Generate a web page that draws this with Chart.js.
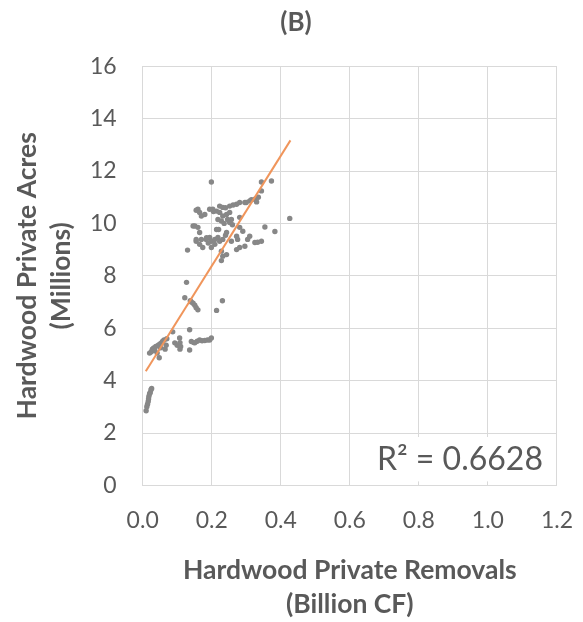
<!DOCTYPE html>
<html>
<head>
<meta charset="utf-8">
<script src="https://cdn.jsdelivr.net/npm/chart.js@4.4.1/dist/chart.umd.min.js"></script>
<style>
  body { margin: 0; background: #fff; }
  canvas { display: block; }
</style>
</head>
<body>
<canvas id="graph1" width="583" height="622"></canvas>
<script>
// Hardwood private removals (billion CF) vs hardwood private acres (millions)
const removals = [
  0.010, 0.012, 0.014, 0.016, 0.017, 0.018, 0.020, 0.022, 0.024, 0.026,
  0.020, 0.025, 0.028, 0.032, 0.035, 0.038, 0.042, 0.045, 0.048, 0.050, 0.052, 0.055,
  0.058, 0.062, 0.065, 0.068, 0.070, 0.087, 0.093, 0.100, 0.107, 0.108, 0.108, 0.110,
  0.136, 0.136, 0.141, 0.148, 0.151, 0.158, 0.165, 0.172, 0.180, 0.188, 0.194, 0.199,
  0.127, 0.122, 0.138, 0.141, 0.146, 0.151, 0.155, 0.160, 0.214, 0.231,
  0.199, 0.344, 0.373, 0.344, 0.325, 0.330, 0.310, 0.296, 0.281, 0.272, 0.252, 0.232,
  0.223, 0.203, 0.194, 0.160, 0.155, 0.165, 0.170, 0.180, 0.214, 0.223, 0.232, 0.243,
  0.252, 0.218, 0.228, 0.246, 0.257, 0.252, 0.281, 0.426, 0.146, 0.151, 0.160, 0.165,
  0.214, 0.220, 0.243, 0.281, 0.290, 0.272, 0.354, 0.383, 0.155, 0.155, 0.170, 0.184,
  0.194, 0.199, 0.209, 0.218, 0.223, 0.232, 0.209, 0.165, 0.174, 0.130, 0.199, 0.257,
  0.275, 0.304, 0.310, 0.325, 0.333, 0.344, 0.296, 0.281, 0.272, 0.243, 0.232, 0.228,
  0.228, 0.236, 0.240, 0.260, 0.205, 0.185, 0.190, 0.240, 0.262, 0.300, 0.315, 0.335
];
const acres = [
  2.85, 3.00, 3.10, 3.20, 3.30, 3.40, 3.50, 3.55, 3.65, 3.70,
  5.05, 5.10, 5.20, 5.25, 5.15, 5.30, 5.05, 5.35, 4.87, 5.40, 5.25, 5.45,
  5.50, 5.55, 5.20, 5.35, 5.60, 5.86, 5.44, 5.35, 5.63, 5.45, 5.20, 5.30,
  5.94, 5.17, 5.49, 5.45, 5.44, 5.50, 5.55, 5.52, 5.53, 5.55, 5.55, 5.63,
  7.75, 7.16, 7.05, 7.00, 6.95, 6.88, 6.78, 6.70, 6.68, 7.05,
  11.58, 11.58, 11.62, 11.24, 10.92, 10.82, 10.86, 10.80, 10.80, 10.73, 10.66, 10.61,
  10.66, 10.54, 10.54, 10.54, 10.50, 10.42, 10.28, 10.34, 10.47, 10.42, 10.28, 10.34,
  10.42, 10.15, 10.09, 10.15, 10.15, 10.03, 10.23, 10.19, 9.90, 9.90, 9.85, 9.65,
  9.77, 9.77, 9.65, 9.85, 9.70, 9.51, 9.86, 9.69, 9.32, 9.39, 9.39, 9.39,
  9.46, 9.32, 9.39, 9.46, 9.32, 9.39, 9.20, 9.20, 9.08, 8.98, 9.08, 9.32,
  9.39, 9.39, 9.51, 9.27, 9.28, 9.32, 9.13, 9.08, 9.00, 8.81, 8.75, 8.94,
  8.58, 10.00, 9.55, 9.95, 10.45, 9.45, 9.25, 10.60, 10.70, 10.80, 10.90, 11.00
];

// linear trend line end points
const trendX = [0.009, 0.428];
const trendY = [4.36, 13.17];
const r2Label = "R\u00b2 = 0.6628";

const xTicks = { min: 0, max: 1.2, step: 0.2 };
const yTicks = { min: 0, max: 16, step: 2 };

const grey = "#595959";
const gridGrey = "#d9d9d9";
Chart.defaults.font.family = "Lato";
Chart.defaults.color = grey;

// white box with the R² text in the lower right corner
const r2Box = {
  id: "r2Box",
  afterDatasetsDraw(chart) {
    const ctx = chart.ctx;
    const xs = chart.scales.x, ys = chart.scales.y;
    const left = xs.getPixelForValue(0.6), right = xs.getPixelForValue(1.2);
    const top = ys.getPixelForValue(2), bottom = ys.getPixelForValue(0);
    ctx.save();
    ctx.fillStyle = "#fff";
    ctx.fillRect(left + 1, top + 4, right - left - 2, bottom - top - 8);
    ctx.fillStyle = grey;
    ctx.font = "32px Lato";
    ctx.textAlign = "right";
    ctx.textBaseline = "alphabetic";
    ctx.fillText(r2Label, right - 14, bottom - 15);
    ctx.restore();
  }
};

new Chart(document.getElementById("graph1"), {
  type: "scatter",
  data: {
    datasets: [
      {
        type: "line",
        label: "Linear trend",
        data: trendX.map((x, i) => ({ x: x, y: trendY[i] })),
        borderColor: "#F0955B",
        borderWidth: 2,
        pointRadius: 0,
        fill: false
      },
      {
        label: "Hardwood Private",
        data: removals.map((x, i) => ({ x: x, y: acres[i] })),
        pointRadius: 2.7,
        pointBackgroundColor: "#878787",
        pointBorderWidth: 0
      }
    ]
  },
  options: {
    responsive: false,
    animation: false,
    devicePixelRatio: 1,
    layout: { padding: { top: 0, left: 9, right: 0, bottom: 0 } },
    plugins: {
      legend: { display: false },
      tooltip: { enabled: false },
      title: {
        display: true,
        text: "(B)",
        color: grey,
        font: { size: 26, weight: "bold" },
        padding: { top: 7, bottom: 28 }
      }
    },
    scales: {
      x: {
        type: "linear",
        min: xTicks.min,
        max: xTicks.max,
        grid: { color: gridGrey, drawTicks: true, tickLength: 11, tickColor: "rgba(0,0,0,0)" },
        border: { color: gridGrey },
        ticks: {
          stepSize: xTicks.step,
          padding: 10,
          font: { size: 23 },
          color: grey,
          callback: v => v.toFixed(1)
        },
        title: {
          display: true,
          text: ["Hardwood Private Removals", "(Billion CF)"],
          color: grey,
          font: { size: 26.5, weight: "bold", lineHeight: 1.283 },
          padding: { top: 9, bottom: 1 }
        }
      },
      y: {
        type: "linear",
        min: yTicks.min,
        max: yTicks.max,
        grid: { color: gridGrey, drawTicks: true, tickLength: 22, tickColor: "rgba(0,0,0,0)" },
        border: { color: gridGrey },
        ticks: {
          stepSize: yTicks.step,
          padding: 4,
          font: { size: 23 },
          color: grey
        },
        title: {
          display: true,
          text: ["Hardwood Private Acres", "(Millions)"],
          color: grey,
          font: { size: 26.5, weight: "bold", lineHeight: 1.283 },
          padding: { top: 1, bottom: 8 }
        }
      }
    }
  },
  plugins: [r2Box]
});
</script>
</body>
</html>
